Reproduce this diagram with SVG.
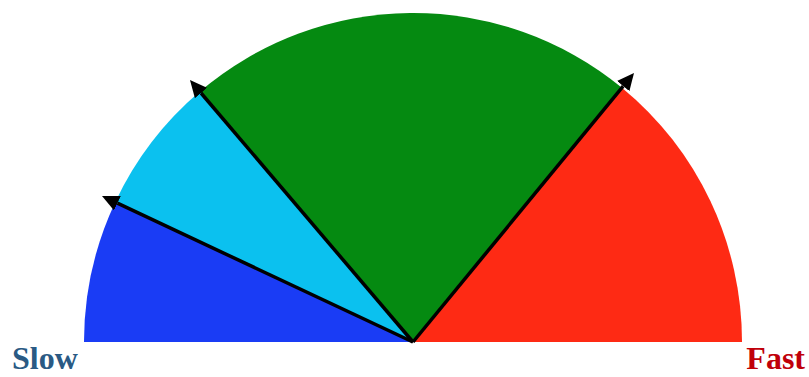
<svg xmlns="http://www.w3.org/2000/svg" width="809" height="377" viewBox="0 0 809 377">
<style>
.lbl{font-family:"Liberation Serif","DejaVu Serif",serif;font-weight:bold;font-size:32px}
.arr{stroke:#000;stroke-width:3.5;fill:none;stroke-linecap:butt}
</style>
<defs>
<marker id="ah" viewBox="0 0 17 16" refX="0" refY="8" markerWidth="17" markerHeight="16" markerUnits="userSpaceOnUse" orient="auto">
<path d="M0,0 L17,8 L0,16 Z" fill="#000"/>
</marker>
</defs>
<rect width="809" height="377" fill="#fff"/>
<g id="blue"><path d="M413,342 L84,342 A329,329 0 0 1 115.1,202.4 Z" fill="#1a3cf5"/></g>
<g id="lightblue"><path d="M413,342 L115.1,202.4 A329,329 0 0 1 199.8,91.6 Z" fill="#0bc1ef"/></g>
<g id="green"><path d="M413,342 L199.8,91.6 A329,329 0 0 1 621.9,87.7 Z" fill="#058a11"/></g>
<g id="red"><path d="M413,342 L621.9,87.7 A329,329 0 0 1 742,342 Z" fill="#fe2a14"/></g>
<g id="connectors">
<path class="arr" d="M413,342 L117.4,203.2" marker-end="url(#ah)"/>
<path class="arr" d="M413,342 L201,93" marker-end="url(#ah)"/>
<path class="arr" d="M413,342 L623.2,86.1" marker-end="url(#ah)"/>
</g>
<g id="slow"><text class="lbl" x="12" y="369" fill="#2a5a84">Slow</text></g>
<g id="fast"><text class="lbl" x="805" y="369" fill="#c0000a" text-anchor="end">Fast</text></g>
</svg>
